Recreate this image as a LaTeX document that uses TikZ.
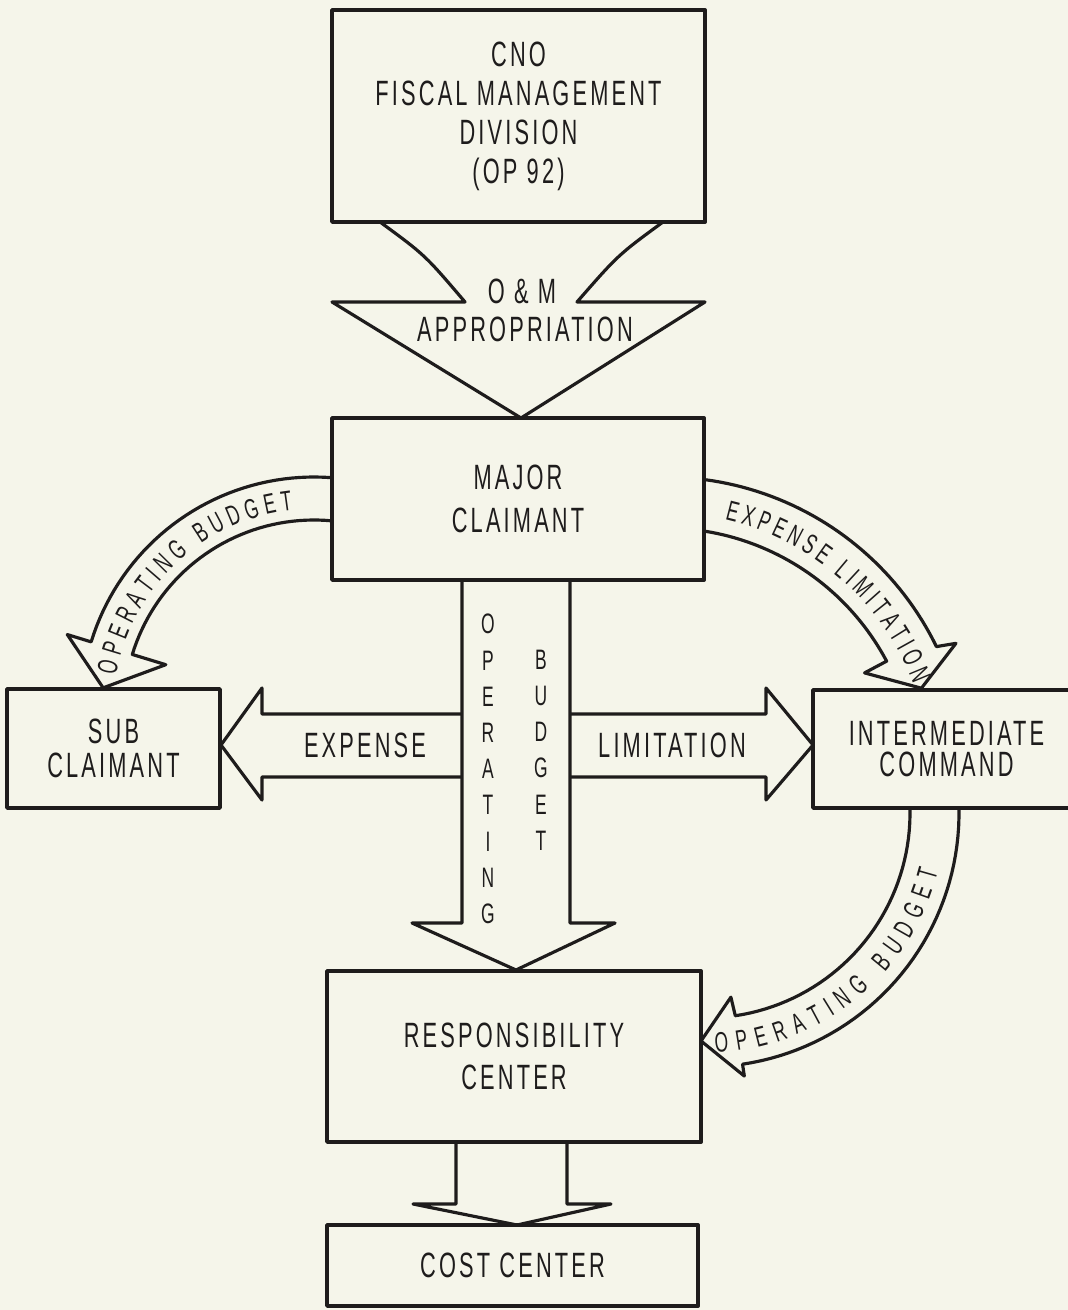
\documentclass[tikz,border=0pt]{standalone}
\usepackage{fontspec}
\usepackage{tikz}
\usetikzlibrary{calc,decorations.text}
\newfontfamily\boxfont{Liberation Sans}[FakeStretch=0.62,LetterSpace=9]
\newfontfamily\arcfont{Liberation Sans}[FakeStretch=0.62]
\definecolor{paper}{RGB}{245,245,234}
\definecolor{ink}{RGB}{30,28,28}
\newcommand{\arcsize}{\arcfont\fontsize{8}{9}\selectfont}

\begin{document}
\begin{tikzpicture}[x=0.01cm, y=-0.01cm, ink, line join=round,
  box/.style={draw=ink, line width=1pt, align=center, inner sep=0pt, font=\boxfont\fontsize{10}{12}\selectfont},
  blk/.style={draw=ink, line width=.9pt},
  lbl/.style={inner sep=0pt, text=ink, font=\boxfont\fontsize{10}{12}\selectfont},
  col/.style={align=center, inner sep=0pt, text=ink, font=\arcfont\fontsize{8}{10.3}\selectfont},
  curv/.style={decorate, decoration={text along path, text align={fit to path}, text color=ink}}]
  \useasboundingbox (0,0) rectangle (1068,1310);
  \fill[paper] (0,0) rectangle (1068,1310);
  \clip (0,0) rectangle (1068,1310);

  \node[box, minimum width=3.73cm, minimum height=2.12cm, font=\boxfont\fontsize{10}{11.1}\selectfont] (cno) at (518.5,116) {CNO\\FISCAL MANAGEMENT\\DIVISION\\(OP 92)};
  \node[box, minimum width=3.72cm, minimum height=1.62cm, font=\boxfont\fontsize{10}{12.2}\selectfont] (major) at (518,499) {MAJOR\\CLAIMANT};
  \node[box, minimum width=2.13cm, minimum height=1.19cm, font=\boxfont\fontsize{10}{9.7}\selectfont] (sub) at (113.5,748.5) {SUB\\CLAIMANT};
  \node[box, minimum width=2.67cm, minimum height=1.18cm, font=\boxfont\fontsize{10}{8.8}\selectfont] (inter) at (946.5,749) {INTERMEDIATE\\COMMAND};
  \node[box, minimum width=3.74cm, minimum height=1.71cm] (resp) at (514,1056.5) {RESPONSIBILITY\\CENTER};
  \node[box, minimum width=3.71cm, minimum height=0.81cm] (cost) at (512.5,1265.5) {COST CENTER};

  % appropriation
  \draw[blk] (380,222) .. controls (425,255) .. (465,302) -- (332,302) -- (521,418) -- (705,302) -- (577,302) .. controls (618,255) .. (663,222);
  \node[lbl] (om) at (522,291) {O \& M};
  \node[lbl] (approp) at (525,329) {APPROPRIATION};

  % down the middle
  \draw[blk] (462,580) -- (462,923) -- (412,923) -- (516,970) -- (615,923) -- (570,923) -- (570,580);
  \node[col] (opcol) at (488,769) {O\\P\\E\\R\\A\\T\\I\\N\\G};
  \node[col] (budcol) at (541,750) {B\\U\\D\\G\\E\\T};

  % sideways
  \draw[blk] (462,714) -- (262,714) -- (262,688) -- (221,745) -- (262,800) -- (262,777) -- (462,777);
  \draw[blk] (570,714) -- (766,714) -- (766,688) -- (813,745) -- (766,800) -- (766,777) -- (570,777);
  \node[lbl] (exp) at (365,745) {EXPENSE};
  \node[lbl] (lim) at (672,745) {LIMITATION};

  % to cost center
  \draw[blk] (456,1142) -- (456,1204) -- (413,1204) -- (517,1225) -- (611,1204) -- (567,1204) -- (567,1142);

  % curved ones
  \coordinate (cl) at (314,710);
  \coordinate (cr) at (665,779);
  \coordinate (cb) at (705,813);

  \draw[blk] plot[domain=-85.6:-163, samples=40] ({314+233*cos(\x)},{710+233*sin(\x)}) -- ($(cl)+(-163:258)$) -- ($(cl)+(-174:212)$) -- ($(cl)+(-163:155)$) -- plot[domain=-163:-84.6, samples=40] ({314+190*cos(\x)},{710+190*sin(\x)});
  \path[curv, decoration={text={|\arcsize|OPERATING BUDGET}}] plot[domain=-170:-96, samples=60] ({314+201*cos(\x)},{710+201*sin(\x)});

  \draw[blk] plot[domain=-82.4:-26, samples=40] ({665+302*cos(\x)},{779+302*sin(\x)}) -- ($(cr)+(-25:321)$) -- ($(cr)+(-19.5:272)$) -- ($(cr)+(-28:226)$) -- plot[domain=-28:-80.8, samples=40] ({665+251*cos(\x)},{779+251*sin(\x)});
  \path[curv, decoration={text={|\arcsize|EXPENSE LIMITATION}}] plot[domain=-77:-21, samples=60] ({665+266*cos(\x)},{779+266*sin(\x)});

  \draw[blk] plot[domain=-1.1:81.5, samples=40] ({705+254*cos(\x)},{813+254*sin(\x)}) -- ($(cb)+(81.5:266)$) -- ($(cb)+(91:228)$) -- ($(cb)+(82:186)$) -- plot[domain=81.5:-1.4, samples=40] ({705+205*cos(\x)},{813+205*sin(\x)});
  \path[curv, decoration={text={|\arcsize|OPERATING BUDGET}}] plot[domain=87.5:14, samples=60] ({705+240*cos(\x)},{813+240*sin(\x)});
\end{tikzpicture}
\end{document}
